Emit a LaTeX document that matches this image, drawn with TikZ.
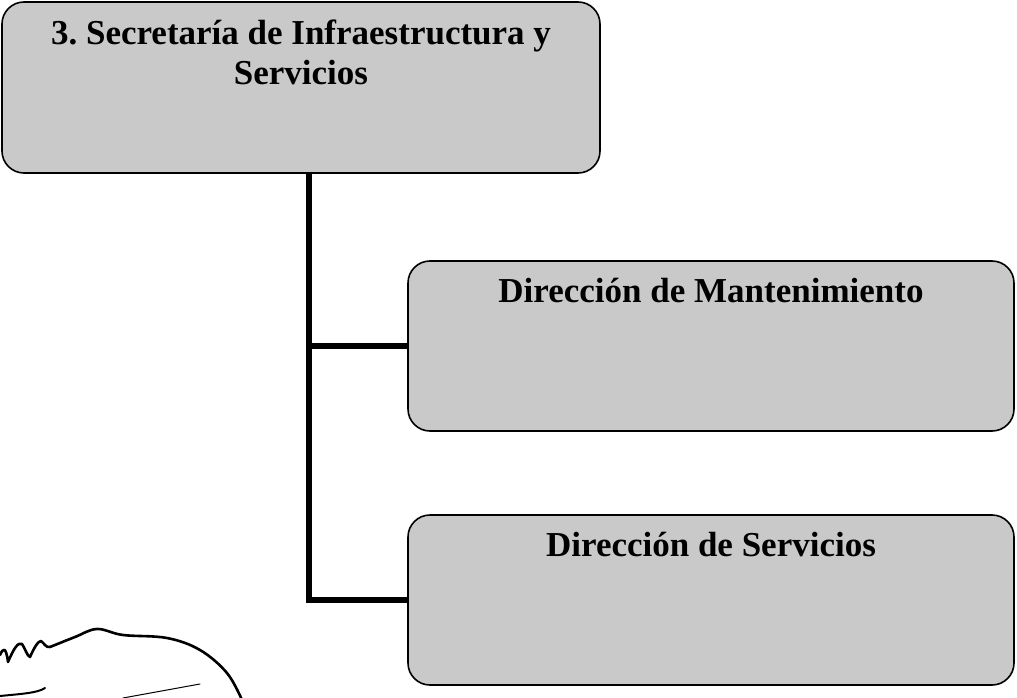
\documentclass[tikz,border=0pt]{standalone}
\usepackage{fontspec}
\setmainfont{Liberation Serif}
\usetikzlibrary{positioning}
\frenchspacing
\tikzset{
	orgbox/.style={draw, line width=1.6pt, rounded corners=22pt, fill=black!21, minimum width=606pt, minimum height=170pt},
	boxtitle/.style={anchor=north, align=center, inner sep=18pt, font=\fontsize{35}{40}\selectfont\bfseries},
	link/.style={line width=5.5pt},
	scrawl/.style={line width=2.6pt, line cap=round, line join=round}
}

\begin{document}
\begin{tikzpicture}[x=1pt, y=-1pt]
	\useasboundingbox (0,0) rectangle (1017,698);
	\node[orgbox, minimum width=598pt, minimum height=171pt, label={[boxtitle]north:{3. Secretaría de Infraestructura y\\Servicios}}] at (301,87.5) (secretaria) {};
	\node[orgbox, label={[boxtitle]north:{Dirección de Mantenimiento}}] at (711,346) (mantenimiento) {};
	\node[orgbox, label={[boxtitle]north:{Dirección de Servicios}}] at (711,600) (servicios) {};
	
	\coordinate (trunk) at ([xshift=8pt]secretaria.south);
	\draw[link] (trunk) |- (servicios.west);
	\draw[link] (mantenimiento.west) -- (mantenimiento.west -| trunk);
	
	% firma
	\draw[scrawl] (0,655) .. controls (3,648) and (6,646) .. (8,662) .. controls (14,648) and (18,642) .. (22,644) .. controls (25,648) and (27,656) .. (30,657) .. controls (34,648) and (38,641) .. (41,641) .. controls (44,643) and (46,648) .. (50,647);
	\draw[scrawl] plot[smooth, tension=0.6] coordinates {(50,647) (75,637) (97,629) (123,635) (167,638) (200,650) (227,673) (242,700)};
	\draw[scrawl, line width=2pt] (0,696) .. controls (20,694) and (38,693) .. (45,688);
	\draw[line width=1pt, line cap=round] (123,698) -- (200,684);
\end{tikzpicture}
\end{document}
